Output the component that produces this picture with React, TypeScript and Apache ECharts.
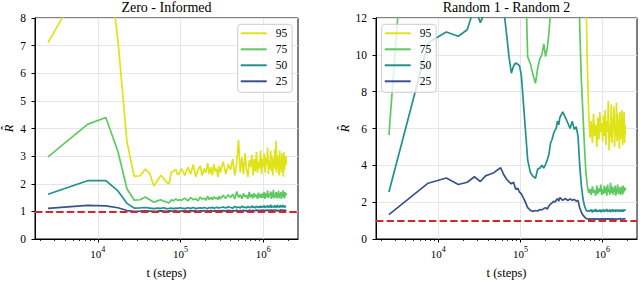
import React, { useEffect, useRef } from "react";
import * as echarts from "echarts";

// training steps at which R-hat was evaluated
const steps = [
  2500, 7500, 12500, 17500, 22500, 27500, 32500, 37500, 42500, 47500, 52500, 57500, 62500, 67500, 72500, 77500, 82500, 87500, 92500, 97500,
  102500, 112500, 122500, 132500, 142500, 152500, 162500, 172500, 182500, 192500, 202500, 212500, 222500, 232500, 242500, 252500, 262500, 272500, 282500, 292500,
  302500, 327500, 352500, 377500, 402500, 427500, 452500, 477500, 502500, 527500, 552500, 577500, 602500, 627500, 652500, 677500, 702500, 727500, 752500, 777500, 802500, 827500, 852500, 877500, 902500, 927500, 952500, 977500,
  1002500, 1027500, 1052500, 1077500, 1102500, 1127500, 1152500, 1177500, 1202500, 1227500, 1252500, 1277500, 1302500, 1327500, 1352500, 1377500, 1402500, 1427500, 1452500, 1477500, 1502500, 1527500, 1552500, 1577500, 1602500, 1627500, 1652500, 1677500, 1702500, 1727500, 1752500, 1777500, 1802500, 1827500, 1852500, 1877500, 1902500,
];

// Zero - Informed
const zeroInformed95 = [
  7.11, 9.6, 10.75, 7.2, 3.52, 2.27, 2.29, 2.53, 2.37, 1.92, 2.12, 2.3, 2.2, 2.05, 2.0, 2.42, 2.45, 2.52, 2.32, 2.4,
  2.55, 2.3, 2.6, 2.35, 2.7, 2.25, 2.5, 2.65, 2.3, 2.55, 2.4, 2.75, 2.35, 2.6, 2.3, 2.7, 2.45, 2.55, 2.25, 2.65,
  2.4, 2.8, 2.35, 2.7, 2.5, 2.9, 2.3, 2.75, 3.58, 2.4, 2.95, 2.35, 3.1, 2.5, 2.25, 2.85, 2.6, 3.05, 2.3, 2.9, 2.45, 3.15, 2.4, 2.8, 2.55, 3.2, 2.35, 2.9,
  2.6, 3.1, 2.4, 2.95, 2.7, 3.3, 2.35, 2.85, 2.55, 3.2, 2.45, 3.0, 2.3, 2.9, 2.65, 3.25, 2.5, 3.56, 2.4, 3.05, 2.6, 2.95, 2.3, 3.2, 2.55, 2.85, 2.4, 3.1, 2.6, 2.95, 2.25, 3.15, 2.5, 2.9, 2.65, 3.0, 2.7,
];
const zeroInformed75 = [
  2.97, 4.15, 4.4, 3.17, 1.82, 1.41, 1.42, 1.52, 1.42, 1.33, 1.38, 1.42, 1.37, 1.34, 1.3, 1.42, 1.38, 1.45, 1.4, 1.42,
  1.4, 1.48, 1.38, 1.5, 1.42, 1.46, 1.38, 1.52, 1.44, 1.48, 1.4, 1.55, 1.43, 1.5, 1.42, 1.53, 1.46, 1.5, 1.42, 1.55,
  1.45, 1.58, 1.47, 1.6, 1.5, 1.62, 1.45, 1.72, 1.5, 1.6, 1.46, 1.65, 1.52, 1.58, 1.45, 1.7, 1.5, 1.62, 1.47, 1.66, 1.52, 1.6, 1.45, 1.68, 1.5, 1.62, 1.48, 1.65,
  1.5, 1.7, 1.45, 1.65, 1.52, 1.75, 1.48, 1.62, 1.55, 1.72, 1.45, 1.68, 1.5, 1.78, 1.48, 1.6, 1.55, 1.7, 1.46, 1.66, 1.52, 1.74, 1.48, 1.62, 1.56, 1.7, 1.45, 1.68, 1.52, 1.76, 1.5, 1.64, 1.47, 1.7, 1.55, 1.66, 1.6,
];
const zeroInformed50 = [
  1.62, 2.11, 2.11, 1.74, 1.29, 1.12, 1.13, 1.14, 1.12, 1.1, 1.12, 1.11, 1.13, 1.1, 1.11, 1.12, 1.1, 1.12, 1.11, 1.13,
  1.12, 1.1, 1.13, 1.11, 1.14, 1.1, 1.12, 1.13, 1.11, 1.14, 1.12, 1.1, 1.14, 1.12, 1.15, 1.11, 1.13, 1.15, 1.12, 1.14,
  1.13, 1.16, 1.12, 1.17, 1.14, 1.12, 1.18, 1.13, 1.16, 1.12, 1.19, 1.14, 1.16, 1.12, 1.18, 1.15, 1.13, 1.2, 1.14, 1.17, 1.12, 1.19, 1.15, 1.17, 1.13, 1.2, 1.14, 1.18,
  1.15, 1.21, 1.13, 1.18, 1.16, 1.22, 1.14, 1.19, 1.15, 1.24, 1.13, 1.2, 1.16, 1.18, 1.14, 1.22, 1.15, 1.19, 1.13, 1.23, 1.16, 1.2, 1.14, 1.18, 1.17, 1.22, 1.14, 1.19, 1.15, 1.23, 1.16, 1.2, 1.13, 1.21, 1.17, 1.19, 1.18,
];
const zeroInformed25 = [
  1.11, 1.22, 1.2, 1.13, 1.03, 1.0, 1.01, 1.02, 1.01, 1.0, 1.01, 1.02, 1.01, 1.0, 1.02, 1.01, 1.01, 1.02, 1.0, 1.01,
  1.01, 1.02, 1.01, 1.03, 1.01, 1.02, 1.0, 1.02, 1.01, 1.03, 1.01, 1.02, 1.01, 1.03, 1.02, 1.01, 1.03, 1.02, 1.01, 1.03,
  1.02, 1.03, 1.01, 1.04, 1.02, 1.03, 1.02, 1.04, 1.01, 1.03, 1.02, 1.04, 1.02, 1.03, 1.01, 1.04, 1.03, 1.02, 1.04, 1.02, 1.03, 1.05, 1.02, 1.04, 1.03, 1.02, 1.05, 1.03,
  1.03, 1.05, 1.02, 1.04, 1.03, 1.05, 1.02, 1.04, 1.03, 1.06, 1.02, 1.04, 1.03, 1.05, 1.02, 1.04, 1.03, 1.05, 1.03, 1.04, 1.02, 1.05, 1.03, 1.04, 1.03, 1.06, 1.02, 1.04, 1.03, 1.05, 1.02, 1.04, 1.03, 1.05, 1.03, 1.04, 1.04,
];

// Random 1 - Random 2 (values above 12 run off the top of the plot)
const random95 = [
  26, 30, 33, 31, 34, 32, 35, 33, 36, 34, 35, 33, 36, 34, 35, 37, 34, 36, 35, 37,
  36, 34, 35, 33, 32, 34, 31, 33, 30, 32, 29, 31, 28, 30, 27, 29, 26, 28, 25, 27,
  25, 24, 26, 23, 24, 22, 23, 21, 22, 20, 21, 19, 17, 13.5, 9.5, 6.9, 5.5, 6.4, 5.2, 6.8, 5.6, 6.2, 5.0, 6.6, 5.4, 6.9, 5.8, 6.3,
  5.3, 6.7, 5.6, 7.0, 5.1, 6.4, 5.8, 7.5, 4.8, 6.2, 5.5, 7.3, 5.2, 6.6, 5.9, 7.2, 5.0, 6.3, 5.6, 7.4, 5.3, 6.8, 5.7, 6.1, 4.9, 6.9, 5.4, 6.5, 5.8, 7.0, 5.1, 6.6, 5.5, 6.9, 5.2, 6.2, 5.7,
];
const random75 = [
  5.64, 34, 30, 28, 27, 26, 25, 24, 25, 23, 24, 22, 23, 21, 22, 20, 21, 19, 20, 18,
  22, 16, 9.9, 9.5, 8.9, 8.45, 9.3, 9.8, 10.0, 10.6, 9.9, 10.4, 11.2, 12.3, 15, 17, 19, 20, 21, 22,
  22, 21, 23, 22, 20, 21, 19, 20, 18, 11.5, 8.6, 6.8, 5.0, 3.6, 2.9, 2.5, 2.7, 2.4, 2.85, 2.5, 2.65, 2.35, 2.9, 2.45, 2.75, 2.55, 2.95, 2.4,
  2.7, 2.45, 2.9, 2.5, 2.8, 2.35, 2.95, 2.55, 2.7, 2.4, 3.05, 2.6, 2.5, 2.85, 2.4, 2.75, 2.55, 2.9, 2.35, 2.7, 2.6, 2.95, 2.45, 2.8, 2.5, 2.65, 2.4, 2.85, 2.55, 2.75, 2.4, 2.9, 2.5, 2.7, 2.6, 2.8, 2.65,
];
const random50 = [
  2.55, 10.66, 11.24, 11.01, 11.36, 12.6, 11.75, 12.4, 13.2, 13.8, 14.2, 14.5, 12.5, 11.2, 9.9, 9.0, 9.4, 9.55, 9.5, 9.4,
  8.9, 6.5, 4.3, 3.6, 3.4, 3.3, 3.8, 3.85, 4.0, 3.85, 4.05, 4.3, 4.6, 5.2, 5.4, 5.7, 5.9, 6.0, 6.4, 6.2,
  6.6, 6.9, 6.6, 6.3, 6.0, 6.4, 5.95, 6.1, 5.6, 4.0, 2.9, 2.2, 1.8, 1.6, 1.5, 1.55, 1.5, 1.6, 1.45, 1.58, 1.5, 1.62, 1.47, 1.55, 1.5, 1.6, 1.46, 1.57,
  1.5, 1.6, 1.47, 1.58, 1.52, 1.63, 1.48, 1.56, 1.5, 1.6, 1.45, 1.58, 1.52, 1.62, 1.48, 1.55, 1.5, 1.6, 1.46, 1.57, 1.53, 1.62, 1.49, 1.56, 1.5, 1.59, 1.47, 1.6, 1.52, 1.57, 1.48, 1.61, 1.5, 1.58, 1.53, 1.6, 1.56,
];
const random25 = [
  1.32, 3.03, 3.31, 2.96, 3.08, 3.38, 3.12, 3.43, 3.52, 3.6, 3.75, 3.87, 3.5, 3.26, 3.1, 3.0, 3.08, 2.7, 2.75, 2.55,
  2.45, 2.1, 1.7, 1.55, 1.5, 1.55, 1.52, 1.6, 1.58, 1.65, 1.7, 1.62, 1.8, 1.9, 1.95, 2.05, 2.0, 2.1, 2.2, 2.05,
  2.25, 2.1, 2.2, 2.08, 2.18, 2.1, 2.15, 2.05, 2.1, 1.7, 1.45, 1.3, 1.2, 1.12, 1.1, 1.08, 1.09, 1.07, 1.1, 1.08, 1.09, 1.07, 1.1, 1.08, 1.09, 1.07, 1.1, 1.08,
  1.09, 1.07, 1.1, 1.08, 1.09, 1.07, 1.1, 1.08, 1.09, 1.07, 1.11, 1.08, 1.09, 1.07, 1.1, 1.08, 1.09, 1.07, 1.1, 1.08, 1.09, 1.07, 1.1, 1.08, 1.09, 1.07, 1.11, 1.08, 1.09, 1.07, 1.1, 1.08, 1.09, 1.07, 1.1, 1.08, 1.09,
];

const percentiles = ["95", "75", "50", "25"];
const colors = ["#dfe318", "#5ec962", "#21918c", "#3b528b"];
const panelTitles = ["Zero - Informed", "Random 1 - Random 2"];
const panelValues = [
  [zeroInformed95, zeroInformed75, zeroInformed50, zeroInformed25],
  [random95, random75, random50, random25],
];
const yMax = [8, 12];
const yInterval = [1, 2];
const majorTicks = [10000, 100000, 1000000];
const minorTicks = [
  2000, 3000, 4000, 5000, 6000, 7000, 8000, 9000,
  20000, 30000, 40000, 50000, 60000, 70000, 80000, 90000,
  200000, 300000, 400000, 500000, 600000, 700000, 800000, 900000,
  2000000,
];
const referenceLevel = 1;

const FONT = "'Liberation Serif', 'DejaVu Serif', serif";
const X_MIN = 1740;
const X_MAX = 2630000;

const grids = [
  { left: 35, top: 18, width: 263, height: 227 },
  { left: 376, top: 18, width: 261, height: 227 },
];
const legendPos = [
  { left: 237.7, top: 24.3 },
  { left: 381.7, top: 24.3 },
];
const yNameGap = [20, 25];

export default function App() {
  const ref = useRef<HTMLDivElement>(null);

  useEffect(() => {
    document.body.style.margin = "0";
    if (!ref.current) return;
    const chart = echarts.init(ref.current, undefined, { renderer: "svg" });

    const xAxis: any[] = [];
    const yAxis: any[] = [];
    const series: any[] = [];
    const graphic: any[] = [];

    grids.forEach((g, gi) => {
      xAxis.push({
        type: "log",
        logBase: 10,
        gridIndex: gi,
        position: "bottom",
        min: X_MIN,
        max: X_MAX,
        axisLine: { show: true, onZero: false, lineStyle: { color: "#000", width: 1 } },
        axisTick: { show: true, length: 3.5, customValues: majorTicks, lineStyle: { color: "#000", width: 1 } },
        axisLabel: {
          customValues: majorTicks,
          margin: 6,
          color: "#000",
          fontFamily: FONT,
          fontSize: 11,
          formatter: (v: number) => "{b|10}{s|" + Math.round(Math.log10(v)) + "}",
          rich: {
            b: { fontFamily: FONT, fontSize: 11, color: "#000", verticalAlign: "bottom" },
            s: { fontFamily: FONT, fontSize: 8, color: "#000", verticalAlign: "bottom", padding: [0, 0, 6, 0] },
          },
        },
        splitLine: { show: true, lineStyle: { color: "#e6e6e6", width: 1 } },
        name: "t (steps)",
        nameLocation: "middle",
        nameGap: 27,
        nameTextStyle: { color: "#000", fontFamily: FONT, fontSize: 12.5 },
      });
      xAxis.push({
        type: "log",
        logBase: 10,
        gridIndex: gi,
        position: "bottom",
        min: X_MIN,
        max: X_MAX,
        axisLine: { show: false },
        axisTick: { show: true, length: 2, customValues: minorTicks, lineStyle: { color: "#000", width: 0.8 } },
        axisLabel: { show: false },
        splitLine: { show: false },
      });
      yAxis.push({
        type: "value",
        gridIndex: gi,
        min: 0,
        max: yMax[gi],
        interval: yInterval[gi],
        axisLine: { show: true, lineStyle: { color: "#000", width: 1 } },
        axisTick: { show: true, length: 3.5, lineStyle: { color: "#000", width: 1 } },
        axisLabel: { margin: 9, color: "#000", fontFamily: FONT, fontSize: 11.5 },
        splitLine: { show: true, lineStyle: { color: "#e6e6e6", width: 1 } },
        name: "R\u0302",
        nameLocation: "middle",
        nameRotate: 90,
        nameGap: yNameGap[gi],
        nameTextStyle: { color: "#000", fontFamily: FONT, fontSize: 12.5, fontStyle: "italic" },
      });

      panelValues[gi].forEach((vals, si) => {
        const n = Math.min(steps.length, vals.length);
        const data: number[][] = [];
        for (let k = 0; k < n; k++) data.push([steps[k], vals[k]]);
        const s: any = {
          type: "line",
          name: percentiles[si],
          xAxisIndex: gi * 2,
          yAxisIndex: gi,
          data,
          symbol: "none",
          showSymbol: false,
          clip: true,
          color: colors[si],
          lineStyle: { color: colors[si], width: 1.7 },
          itemStyle: { color: colors[si] },
          emphasis: { disabled: true },
        };
        if (si === 3) {
          s.markLine = {
            symbol: "none",
            silent: true,
            label: { show: false },
            lineStyle: { color: "#d62728", width: 2, type: [7.4, 3.2] },
            emphasis: { disabled: true },
            data: [{ yAxis: referenceLevel }],
          };
        }
        series.push(s);
      });

      graphic.push({
        type: "text",
        x: g.left + g.width / 2,
        y: 0,
        style: {
          text: panelTitles[gi],
          fill: "#000",
          font: `14px ${FONT}`,
          align: "center",
          verticalAlign: "top",
        },
      });
    });

    const legend = legendPos.map((p) => ({
      data: percentiles,
      left: p.left,
      top: p.top,
      orient: "vertical",
      icon: "rect",
      itemWidth: 26,
      itemHeight: 2,
      itemGap: 4,
      padding: [3, 5, 5, 3],
      borderColor: "#cccccc",
      borderWidth: 1,
      borderRadius: 3,
      backgroundColor: "rgba(255,255,255,0.8)",
      selectedMode: false,
      textStyle: { color: "#000", fontFamily: FONT, fontSize: 11.5, lineHeight: 12, padding: [0, 0, 0, 4] },
    }));

    chart.setOption({
      animation: false,
      backgroundColor: "#fff",
      textStyle: { fontFamily: FONT },
      grid: grids.map((g) => ({
        ...g,
        show: true,
        borderColor: "#000",
        borderWidth: 1,
        backgroundColor: "transparent",
        containLabel: false,
      })),
      xAxis,
      yAxis,
      legend,
      series,
      graphic,
    });

    return () => chart.dispose();
  }, []);

  return <div ref={ref} style={{ width: 640, height: 284 }} />;
}
